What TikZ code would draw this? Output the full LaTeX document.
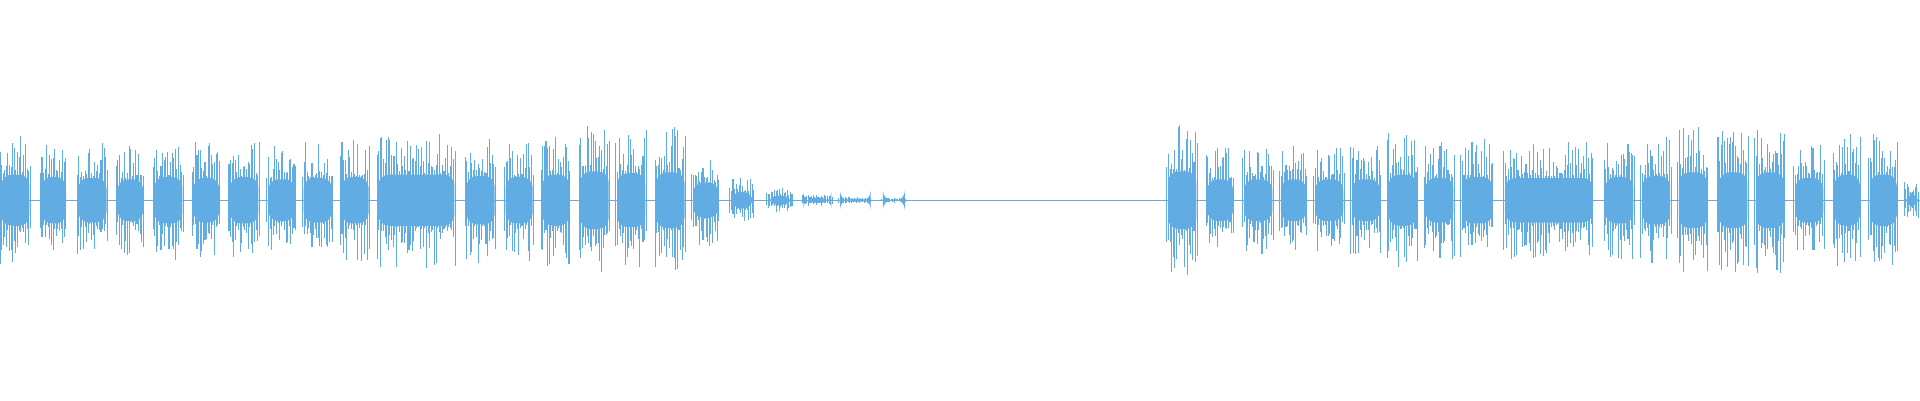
\documentclass[tikz,border=0pt]{standalone}
\definecolor{wave}{RGB}{97,172,226}
\tikzset{
  spike/.style={draw=wave, line width=0.3pt},
  core/.style={fill=wave},
}
\begin{document}
\begin{tikzpicture}[x=0.012245cm, y=-0.012245cm]
\useasboundingbox (0,0) rectangle (1568,327);
\pgfmathsetseed{11}
% baseline
\draw[spike, line width=0.25pt] (0,163.5) -- (1568,163.5);
% bursts: start/end/amplitude
\foreach \a/\b/\h in {0/25/55, 33/55/50, 63/88/48, 95/118/45, 125/150/50, 157/180/48,
  187/212/50, 218/242/45, 247/272/48, 278/302/50, 308/372/55, 380/405/52, 412/436/50,
  442/466/55, 473/498/62, 503/528/58, 535/560/60, 565/588/38, 596/616/18, 626/648/10,
  655/680/5, 685/712/3, 720/740/2,
  953/978/62, 985/1008/45, 1015/1040/45, 1045/1068/45, 1073/1098/45, 1103/1128/45,
  1133/1158/55, 1163/1188/48, 1193/1220/50, 1228/1302/48, 1310/1335/50, 1340/1365/52,
  1370/1395/60, 1403/1428/60, 1433/1458/60, 1465/1490/48, 1497/1520/55, 1526/1550/55,
  1555/1568/15}
{
  \fill[core, rounded corners=3] (\a+1,163.5-0.38*\h) rectangle (\b-1,163.5+0.38*\h);
  \pgfmathsetmacro\aa{\a+1.3}
  \foreach \x in {\a,\aa,...,\b} {
    \pgfmathsetmacro\up{\h*(0.4+0.6*rnd^1.5)}
    \pgfmathsetmacro\dn{\h*(0.4+0.6*rnd^1.5)}
    \draw[spike] (\x,163.5-\up) -- (\x,163.5+\dn);
  }
}
\end{tikzpicture}
\end{document}
